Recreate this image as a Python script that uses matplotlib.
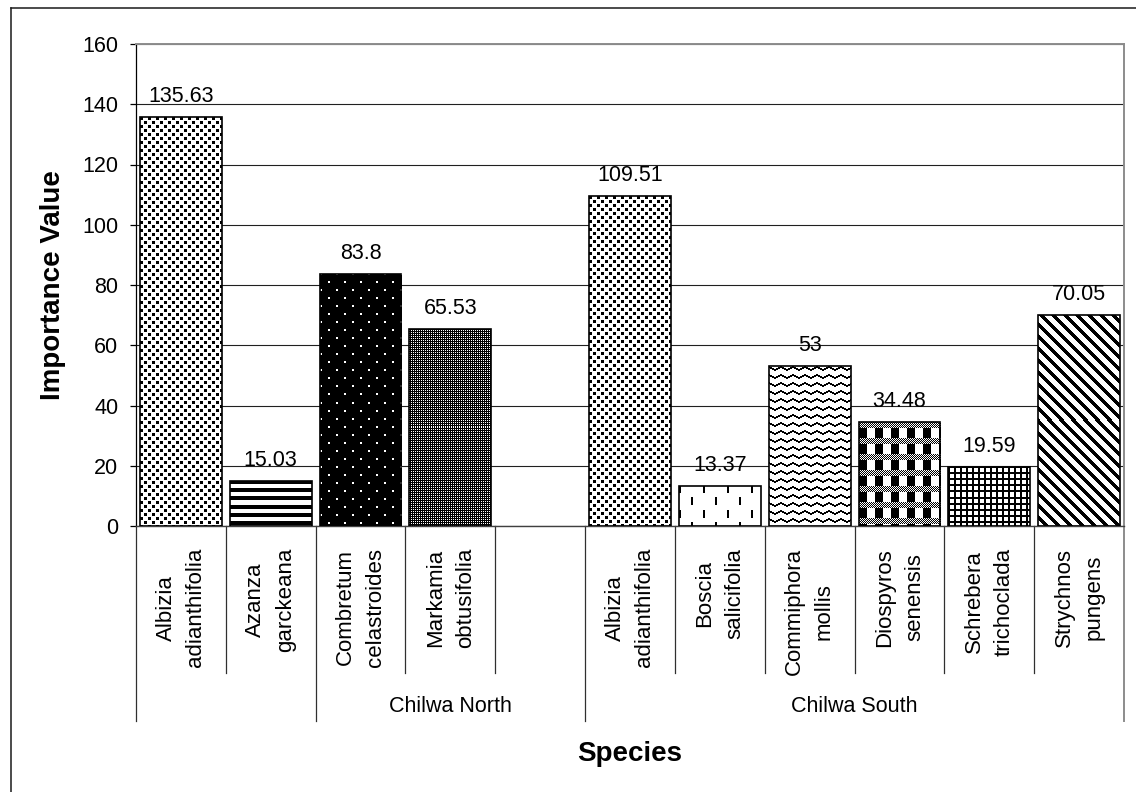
import numpy as np
import matplotlib
matplotlib.use("Agg")
import matplotlib.pyplot as plt
from matplotlib.lines import Line2D

plt.rcParams['font.family'] = ['Liberation Sans', 'DejaVu Sans']

# ---- data -------------------------------------------------------------
species = [
    "Albizia\nadianthifolia", "Azanza\ngarckeana", "Combretum\ncelastroides",
    "Markamia\nobtusifolia", "",
    "Albizia\nadianthifolia", "Boscia\nsalicifolia", "Commiphora\nmollis",
    "Diospyros\nsenensis", "Schrebera\ntrichoclada", "Strychnos\npungens",
]
importance = [135.63, 15.03, 83.8, 65.53, None,
              109.51, 13.37, 53, 34.48, 19.59, 70.05]
group_names = ["", "Chilwa North", "Chilwa South"]
group_sizes = [2, 3, 6]
y_ticks = [0, 20, 40, 60, 80, 100, 120, 140, 160]

# ---- fill patterns (True = black pixel) --------------------------------
def pat_dots():
    t = np.zeros((8, 8), bool)
    t[0:3, 0:3] = True
    t[4:7, 4:7] = True
    return t

def pat_hstripes():
    t = np.zeros((8, 1), bool)
    t[0:4, :] = True
    return t

def pat_black_dots():
    t = np.ones((16, 16), bool)
    t[0:2, 0:2] = False
    t[8:10, 8:10] = False
    return t

def pat_fine():
    t = np.ones((2, 2), bool)
    t[0, 0] = False
    return t

def pat_dashes():
    t = np.zeros((24, 24), bool)
    t[0:8, 0:2] = True
    t[12:20, 12:14] = True
    return t

def pat_zigzag():
    t = np.zeros((8, 12), bool)
    rows = [0, 1, 1, 2, 2, 3, 3, 2, 2, 1, 1, 0]
    for c, r in enumerate(rows):
        t[r, c] = True
        t[r + 1, c] = True
    return t

def pat_plaid():
    t = np.zeros((16, 16), bool)
    rr, cc = np.mgrid[0:6, 0:16]
    t[0:6, :] = (rr + cc) % 2 == 0
    t[6:16, 0:8] = True
    return t

def pat_grid():
    t = np.zeros((6, 6), bool)
    t[0:2, :] = True
    t[:, 0:2] = True
    return t

def pat_diag():
    rr, cc = np.mgrid[0:12, 0:12]
    return ((cc - rr) % 12) < 5

patterns = [pat_dots(), pat_hstripes(), pat_black_dots(), pat_fine(), None,
            pat_dots(), pat_dashes(), pat_zigzag(), pat_plaid(), pat_grid(),
            pat_diag()]

# ---- figure -----------------------------------------------------------
W, H = 1136, 792
fig = plt.figure(figsize=(W / 100, H / 100), dpi=100)
ax = fig.add_axes([136 / W, (H - 526) / H, (1124 - 136) / W, (526 - 44) / H])

n = len(species)
x = np.arange(n)
ax.set_xlim(-0.5, n - 0.5)
ax.set_ylim(0, 160)

vals = [v if v is not None else 0 for v in importance]
bars = ax.bar(x, vals, width=0.91, facecolor='none', edgecolor='black',
              linewidth=1.2, zorder=3)

for bar, v, pat in zip(bars, importance, patterns):
    if v is None:
        bar.set_visible(False)
        continue
    bx, bw, bh = bar.get_x(), bar.get_width(), bar.get_height()
    (px0, py0) = ax.transData.transform((bx, 0))
    (px1, py1) = ax.transData.transform((bx + bw, bh))
    wpx, hpx = int(round(px1 - px0)), int(round(py1 - py0))
    reps = (hpx // pat.shape[0] + 1, wpx // pat.shape[1] + 1)
    img = np.where(np.tile(pat, reps)[:hpx, :wpx], 0.0, 1.0)
    im = ax.imshow(img, extent=(bx, bx + bw, 0, bh), origin='upper',
                   cmap='gray', vmin=0, vmax=1, interpolation='nearest',
                   aspect='auto', zorder=2)
    im.set_clip_path(bar)
    ax.annotate(f"{v:g}", (bar.get_x() + bw / 2, bh), xytext=(0, 10.8),
                textcoords='offset points', ha='center', va='baseline',
                fontsize=15.5)

ax.set_xlim(-0.5, n - 0.5)
ax.set_ylim(0, 160)

# y axis, grid and frame
ax.set_yticks(y_ticks)
ax.tick_params(axis='y', direction='out', length=4.3, width=0.9,
               labelsize=15.5, pad=8.4, colors='black')
ax.set_xticks([])
ax.yaxis.grid(True, color='#202020', linewidth=0.8)
ax.set_axisbelow(True)
for side in ('top', 'right'):
    ax.spines[side].set_color('#8c8c8c')
    ax.spines[side].set_linewidth(1.4)
ax.spines['left'].set_color('black')
ax.spines['left'].set_linewidth(0.9)
ax.spines['bottom'].set_color('#404040')
ax.spines['bottom'].set_linewidth(1.0)

# category labels under each bar
xt = ax.get_xaxis_transform()
for xi, name in zip(x, species):
    if name:
        ax.annotate(name, (xi, 0), xycoords=xt, xytext=(0, -15.8),
                    textcoords='offset points', rotation=90, ha='center',
                    va='top', multialignment='center', fontsize=16,
                    linespacing=1.55)

# divider lines between categories and between groups
inner_y = -(673 - 526) / (526 - 44)
outer_y = -(721 - 526) / (526 - 44)
group_edges = np.concatenate([[0], np.cumsum(group_sizes)]) - 0.5
for b in np.arange(n + 1) - 0.5:
    if b in group_edges:
        continue
    ax.plot([b, b], [0, inner_y], transform=xt, color='#303030',
            linewidth=0.9, clip_on=False)
for b in group_edges:
    col = '#8c8c8c' if b == group_edges[-1] else '#303030'
    ax.plot([b, b], [0, outer_y], transform=xt, color=col,
            linewidth=1.4 if b == group_edges[-1] else 0.9, clip_on=False)

group_y = -(707 - 526) / (526 - 44)
for name, lo, hi in zip(group_names, group_edges[:-1], group_edges[1:]):
    if name:
        ax.text((lo + hi) / 2, group_y, name, transform=xt, ha='center',
                va='center', fontsize=15.5)

# axis titles
fig.text(53 / W, 1 - 285 / H, "Importance Value", rotation=90,
         ha='center', va='center', fontsize=20, fontweight='bold')
fig.text(630 / W, 1 - 754 / H, "Species", ha='center', va='center',
         fontsize=20, fontweight='bold')

# outer chart frame (left and top edges)
fig.add_artist(Line2D([10.5 / W, 10.5 / W], [0, 1 - 8 / H],
                      transform=fig.transFigure, color='#1a1a1a', lw=1.1))
fig.add_artist(Line2D([10.5 / W, 1], [1 - 8 / H, 1 - 8 / H],
                      transform=fig.transFigure, color='#1a1a1a', lw=1.1))

fig.savefig("out.png", dpi=100, facecolor='white')
